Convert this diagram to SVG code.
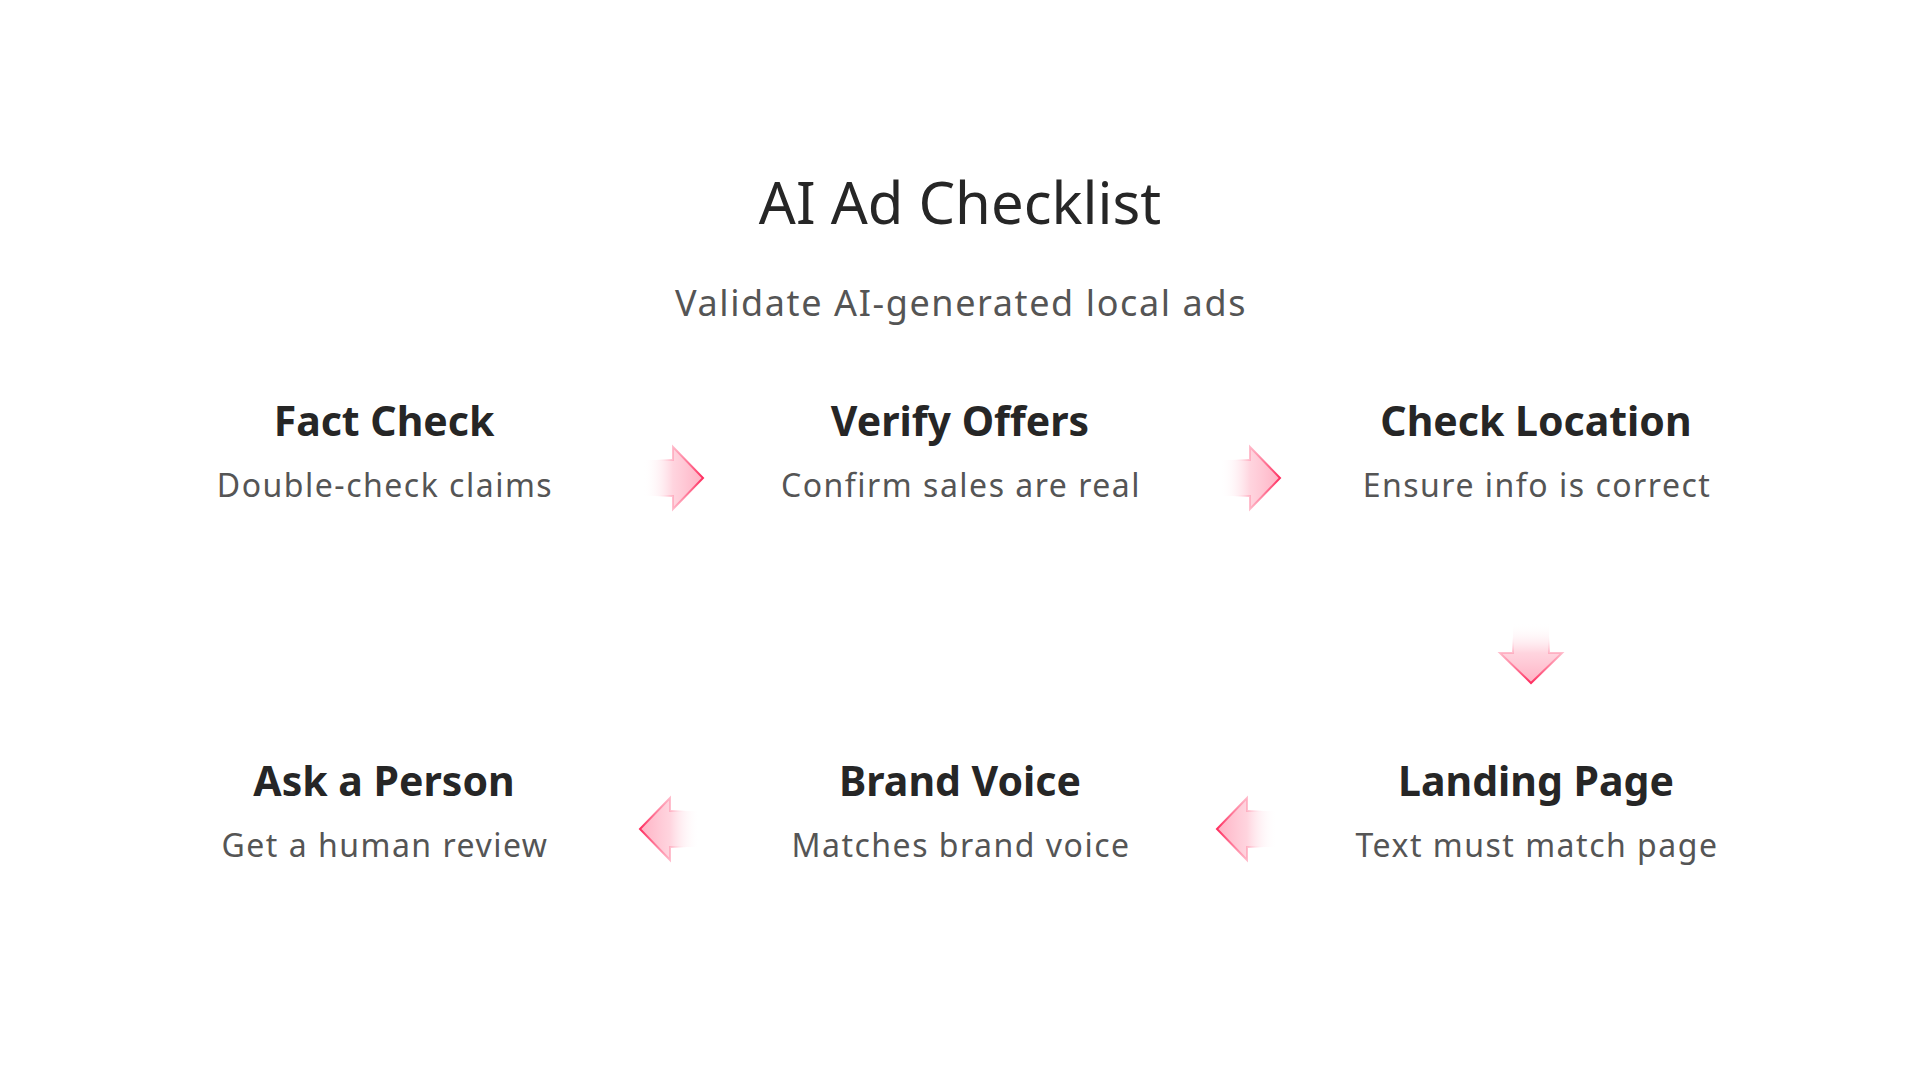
<svg xmlns="http://www.w3.org/2000/svg" xmlns:xlink="http://www.w3.org/1999/xlink" width="1920" height="1080" viewBox="0 0 1920 1080">
<defs>
<style>
.title{font-family:"Noto Sans","Open Sans",sans-serif;font-size:58px;fill:#262626;text-anchor:middle}
.sub{font-family:"Noto Sans","Open Sans",sans-serif;font-size:36px;letter-spacing:1.6px;fill:#555555;text-anchor:middle}
.nt{font-family:"Noto Sans","Open Sans",sans-serif;font-size:41px;font-weight:700;fill:#262626;text-anchor:middle}
.nd{font-family:"Noto Sans","Open Sans",sans-serif;font-size:32px;letter-spacing:1.5px;fill:#555555;text-anchor:middle}
.arrow{fill:url(#af);stroke:url(#as);stroke-width:2;stroke-linejoin:miter}
</style>
<linearGradient id="af" x1="0" y1="0" x2="1" y2="0">
<stop offset="0" stop-color="#ffffff" stop-opacity="0"/>
<stop offset="0.5" stop-color="#ffb8c9" stop-opacity="0.6"/>
<stop offset="1" stop-color="#ffa3b9" stop-opacity="0.85"/>
</linearGradient>
<linearGradient id="as" x1="0" y1="0" x2="1" y2="0">
<stop offset="0.2" stop-color="#ffffff" stop-opacity="0"/>
<stop offset="0.5" stop-color="#ffa9bd" stop-opacity="0.8"/>
<stop offset="1" stop-color="#ff2d5f" stop-opacity="1"/>
</linearGradient>
<path id="arr" d="M0,-18 L30,-18 L30,-31 L60,0 L30,31 L30,18 L0,18 Z"/>
</defs>
<rect width="1920" height="1080" fill="#ffffff"/>
<text class="title" x="960" y="224">AI Ad Checklist</text>
<text class="sub" x="961" y="316">Validate AI-generated local ads</text>
<g id="connectors">
<use xlink:href="#arr" class="arrow" transform="translate(643,478)"/>
<use xlink:href="#arr" class="arrow" transform="translate(1220,478)"/>
<use xlink:href="#arr" class="arrow" transform="translate(1531,623) rotate(90)"/>
<use xlink:href="#arr" class="arrow" transform="translate(1277,829) rotate(180)"/>
<use xlink:href="#arr" class="arrow" transform="translate(700,829) rotate(180)"/>
</g>
<g id="node-fact-check">
<text class="nt" x="384" y="436">Fact Check</text>
<text class="nd" x="385" y="497">Double-check claims</text>
</g>
<g id="node-verify-offers">
<text class="nt" x="960" y="436">Verify Offers</text>
<text class="nd" x="961" y="497">Confirm sales are real</text>
</g>
<g id="node-check-location">
<text class="nt" x="1536" y="436">Check Location</text>
<text class="nd" x="1537" y="497">Ensure info is correct</text>
</g>
<g id="node-landing-page">
<text class="nt" x="1536" y="796">Landing Page</text>
<text class="nd" x="1537" y="857">Text must match page</text>
</g>
<g id="node-brand-voice">
<text class="nt" x="960" y="796">Brand Voice</text>
<text class="nd" x="961" y="857">Matches brand voice</text>
</g>
<g id="node-ask-person">
<text class="nt" x="384" y="796">Ask a Person</text>
<text class="nd" x="385" y="857">Get a human review</text>
</g>
</svg>
